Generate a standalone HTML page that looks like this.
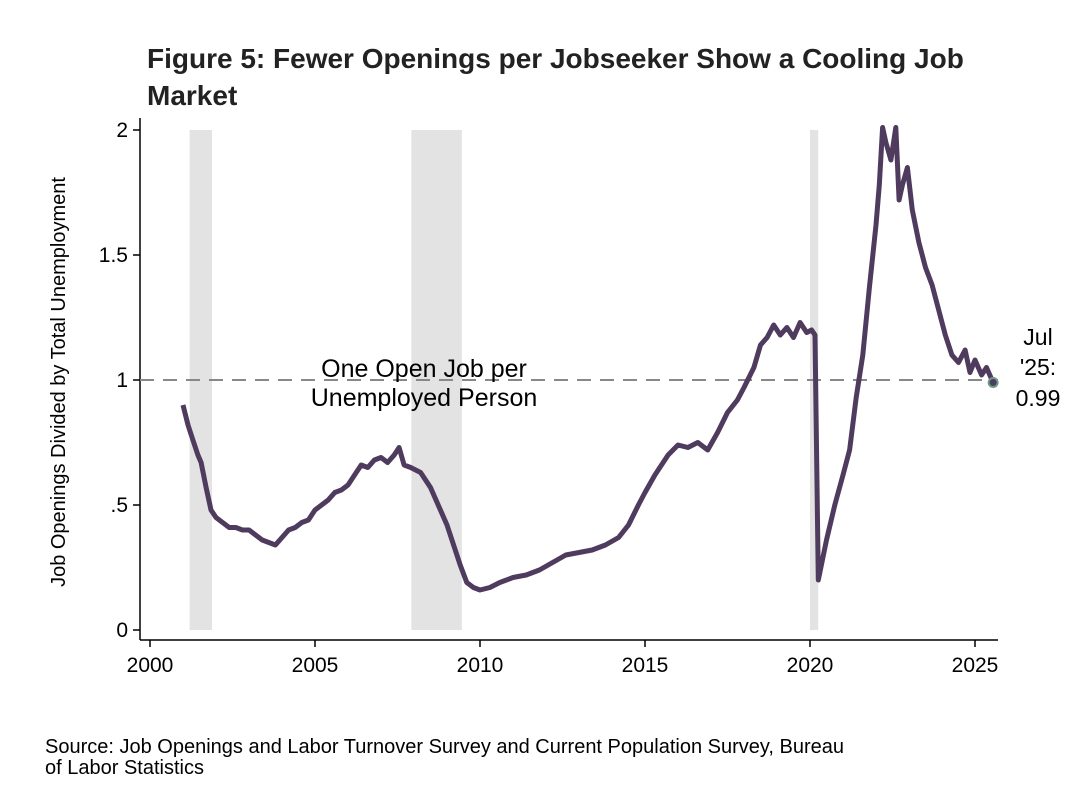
<!DOCTYPE html>
<html><head><meta charset="utf-8"><style>
body{margin:0;background:#fff;font-family:"Liberation Sans",Arial,sans-serif}
svg text{font-family:"Liberation Sans",Arial,sans-serif}
</style></head><body>
<svg id="chart" width="1078" height="784" viewBox="0 0 1078 784">
<rect x="0" y="0" width="1078" height="784" fill="#fff"/>
<text x="147" y="68" font-size="28" font-weight="bold" fill="#222"><tspan x="147" y="68">Figure 5: Fewer Openings per Jobseeker Show a Cooling Job</tspan><tspan x="147" y="105">Market</tspan></text>
<g id="shades"></g>
<g id="axes"></g>
<line x1="140" y1="380" x2="998" y2="380" stroke="#888" stroke-width="2" stroke-dasharray="14,9"/>
<text x="424" y="377" font-size="25" text-anchor="middle"><tspan x="424" y="377">One Open Job per</tspan><tspan x="424" y="406">Unemployed Person</tspan></text>
<path id="line" fill="none" stroke="#4f3b5e" stroke-width="5" stroke-linejoin="round"/>
<circle id="endpt" r="4.5" fill="#4f3b5e" stroke="#6a9a86" stroke-width="2"/>
<text x="1038" y="345" font-size="23" text-anchor="middle"><tspan x="1038" y="345">Jul</tspan><tspan x="1038" y="375">'25:</tspan><tspan x="1038" y="406">0.99</tspan></text>
<text transform="translate(65,382) rotate(-90)" font-size="20" text-anchor="middle">Job Openings Divided by Total Unemployment</text>
<text x="45" y="753" font-size="20"><tspan x="45" y="753">Source: Job Openings and Labor Turnover Survey and Current Population Survey, Bureau</tspan><tspan x="45" y="774">of Labor Statistics</tspan></text>
</svg>
<script>
const years=[2001.0,2001.15,2001.3,2001.45,2001.55,2001.7,2001.85,2002.0,2002.2,2002.4,2002.6,2002.8,2003.0,2003.2,2003.4,2003.6,2003.8,2004.0,2004.2,2004.4,2004.6,2004.8,2005.0,2005.2,2005.4,2005.6,2005.8,2006.0,2006.2,2006.4,2006.6,2006.8,2007.0,2007.2,2007.4,2007.55,2007.7,2007.9,2008.2,2008.5,2008.8,2009.0,2009.2,2009.4,2009.6,2009.8,2010.0,2010.3,2010.6,2011.0,2011.4,2011.8,2012.2,2012.6,2013.0,2013.4,2013.8,2014.2,2014.5,2014.8,2015.0,2015.3,2015.5,2015.7,2016.0,2016.3,2016.6,2016.9,2017.2,2017.5,2017.8,2018.0,2018.3,2018.5,2018.7,2018.9,2019.1,2019.3,2019.5,2019.7,2019.9,2020.05,2020.15,2020.25,2020.5,2020.75,2021.0,2021.2,2021.4,2021.6,2021.8,2022.0,2022.1,2022.2,2022.3,2022.45,2022.6,2022.7,2022.8,2022.95,2023.1,2023.3,2023.5,2023.7,2023.9,2024.1,2024.3,2024.5,2024.7,2024.85,2025.0,2025.2,2025.35,2025.55];
const values=[0.90,0.82,0.76,0.70,0.67,0.57,0.48,0.45,0.43,0.41,0.41,0.40,0.40,0.38,0.36,0.35,0.34,0.37,0.40,0.41,0.43,0.44,0.48,0.50,0.52,0.55,0.56,0.58,0.62,0.66,0.65,0.68,0.69,0.67,0.70,0.73,0.66,0.65,0.63,0.57,0.48,0.42,0.34,0.26,0.19,0.17,0.16,0.17,0.19,0.21,0.22,0.24,0.27,0.30,0.31,0.32,0.34,0.37,0.42,0.50,0.55,0.62,0.66,0.70,0.74,0.73,0.75,0.72,0.79,0.87,0.92,0.97,1.05,1.14,1.17,1.22,1.18,1.21,1.17,1.23,1.19,1.20,1.18,0.20,0.36,0.50,0.62,0.72,0.93,1.10,1.37,1.62,1.78,2.01,1.95,1.88,2.01,1.72,1.78,1.85,1.68,1.55,1.45,1.38,1.28,1.18,1.10,1.07,1.12,1.03,1.08,1.02,1.05,0.99];
const xTicks=[2000,2005,2010,2015,2020,2025];
const yTicks=[0,0.5,1,1.5,2];
const yTickLabels=["0",".5","1","1.5","2"];
const recessionStarts=[2001.2,2007.92,2020.0];
const recessionEnds=[2001.88,2009.45,2020.25];
const X=y=>150+(y-2000)*33;
const Y=v=>630-v*250;
const NS="http://www.w3.org/2000/svg";
function mk(t,a,p){const e=document.createElementNS(NS,t);for(const k in a)e.setAttribute(k,a[k]);p.appendChild(e);return e;}
const sh=document.getElementById('shades');
recessionStarts.forEach((s,i)=>{const r=mk('rect',{x:X(s),y:Y(2),width:X(recessionEnds[i])-X(s),height:Y(0)-Y(2),fill:'#e3e3e3'},sh);

});
const ax=document.getElementById('axes');
const ya=mk('line',{x1:140,y1:118,x2:140,y2:640,stroke:'#000','stroke-width':1.5},ax);


const xa=mk('line',{x1:140,y1:640,x2:998,y2:640,stroke:'#000','stroke-width':1.5},ax);


yTicks.forEach((v,i)=>{mk('line',{x1:133,y1:Y(v),x2:140,y2:Y(v),stroke:'#000','stroke-width':1.5},ax);
const t=mk('text',{x:128,y:Y(v)+7,'font-size':21,'text-anchor':'end'},ax);t.textContent=yTickLabels[i];

});
xTicks.forEach(v=>{mk('line',{x1:X(v),y1:640,x2:X(v),y2:647,stroke:'#000','stroke-width':1.5},ax);
const t=mk('text',{x:X(v),y:672,'font-size':21,'text-anchor':'middle'},ax);t.textContent=v;

});
document.getElementById('line').setAttribute('d',years.map((y,i)=>(i?'L':'M')+X(y).toFixed(1)+' '+Y(values[i]).toFixed(1)).join(''));
const e=document.getElementById('endpt');e.setAttribute('cx',X(years[years.length-1]));e.setAttribute('cy',Y(values[values.length-1]));
</script>
</body></html>
